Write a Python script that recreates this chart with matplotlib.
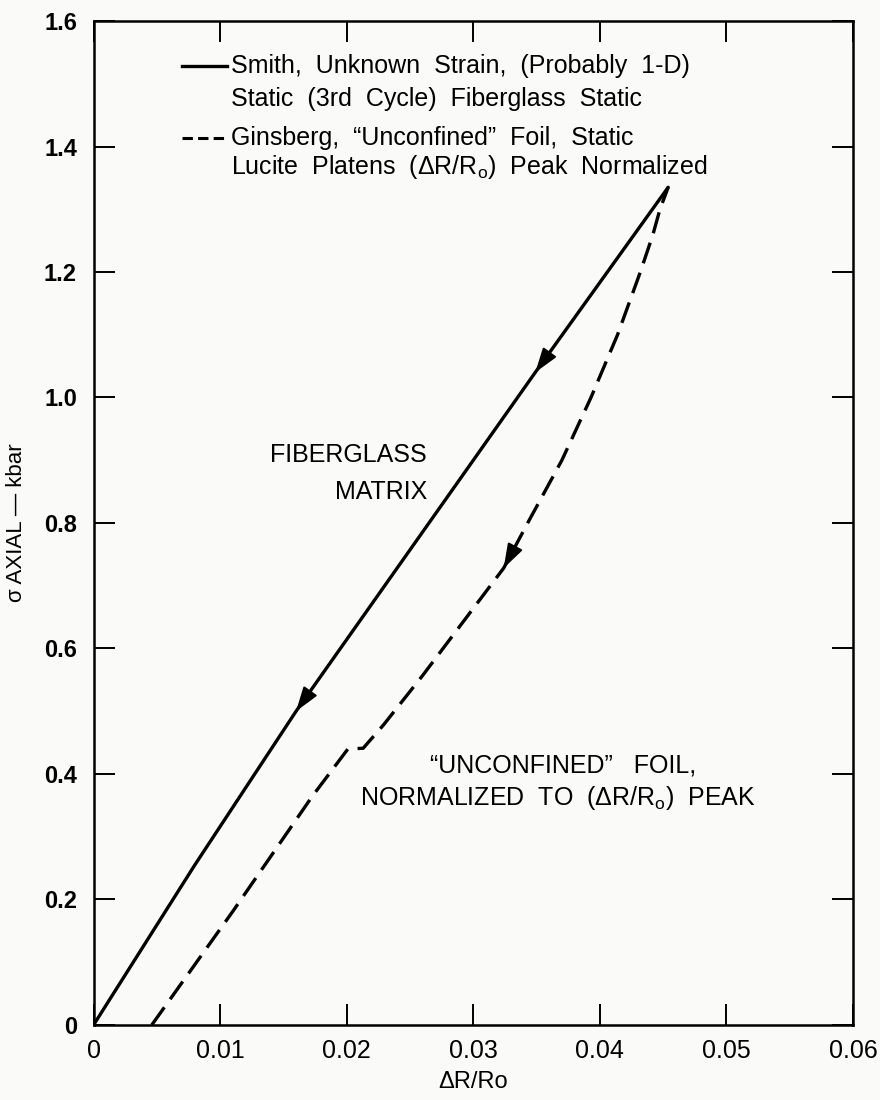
import numpy as np
import matplotlib
matplotlib.use('Agg')
import matplotlib.pyplot as plt

plt.rcParams['font.family'] = ['Liberation Sans', 'DejaVu Sans']
plt.rcParams['mathtext.fontset'] = 'custom'
plt.rcParams['mathtext.rm'] = 'Liberation Sans'

# Smith, fiberglass matrix, static unload (3rd cycle)
smith_dr = [0.0, 0.008, 0.016, 0.0258, 0.0349, 0.0454]
smith_sig = [0.0, 0.255, 0.50, 0.78, 1.04, 1.335]

# Ginsberg, unconfined foil, normalized to peak dR/Ro
gins_dr = [0.0046, 0.011, 0.0173, 0.0201, 0.0213, 0.0229, 0.0260, 0.0324,
           0.0343, 0.0370, 0.0393, 0.0414, 0.0432, 0.0442, 0.04475, 0.0454]
gins_sig = [0.0, 0.181, 0.365, 0.44, 0.441, 0.478, 0.557, 0.728,
            0.80, 0.90, 1.0, 1.10, 1.20, 1.26, 1.30, 1.335]

# stress levels where direction arrows sit
smith_arrow_sig = [0.50, 1.04]
gins_arrow_sig = [0.728]

x_ticks = [0, 0.01, 0.02, 0.03, 0.04, 0.05, 0.06]
x_tick_labels = ['0', '0.01', '0.02', '0.03', '0.04', '0.05', '0.06']
y_ticks = [0, 0.2, 0.4, 0.6, 0.8, 1.0, 1.2, 1.4, 1.6]
y_tick_labels = ['0', '0.2', '0.4', '0.6', '0.8', '1.0', '1.2', '1.4', '1.6']

bg = '#fafaf8'
fig = plt.figure(figsize=(8.8, 11), dpi=100, facecolor=bg)
ax = fig.add_axes([0.1063, 0.0682, 0.863, 0.9127], facecolor=bg)

ax.plot(smith_dr, smith_sig, color='black', linewidth=2.4, solid_capstyle='round')
ax.plot(gins_dr, gins_sig, color='black', linewidth=2.4, dashes=(6.5, 3))

def add_arrows(xs, ys, levels):
    for s in levels:
        x = np.interp(s, ys, xs)
        x_up = np.interp(s + 0.04, ys, xs)
        ax.annotate('', xy=(x, s), xytext=(x_up, s + 0.04),
                    arrowprops=dict(arrowstyle='-|>,head_length=1.5,head_width=0.5',
                                    color='black', lw=1.5, shrinkA=0, shrinkB=0))

add_arrows(smith_dr, smith_sig, smith_arrow_sig)
add_arrows(gins_dr, gins_sig, gins_arrow_sig)

ax.set_xlim(0, 0.06)
ax.set_ylim(0, 1.6)
ax.set_xticks(x_ticks)
ax.set_xticklabels(x_tick_labels, fontsize=18)
ax.set_yticks(y_ticks)
ax.set_yticklabels(y_tick_labels, fontsize=17, fontweight='bold')
ax.tick_params(direction='in', length=15, width=1.4, top=True, right=True)
ax.tick_params(axis='x', pad=10)
ax.tick_params(axis='y', pad=12)
for sp in ax.spines.values():
    sp.set_linewidth(1.8)

ax.set_xlabel('ΔR/Ro', fontsize=17, labelpad=6)
ax.set_ylabel('σ AXIAL — kbar', fontsize=16, labelpad=12)

# legend block drawn as text with short line samples
ax.plot([0.0070, 0.01055], [1.528, 1.528], color='black', linewidth=2.4)
ax.plot([0.0070, 0.01055], [1.414, 1.414], color='black', linewidth=2.2, dashes=(3.4, 1.7))
leg_kw = dict(fontsize=18, va='center', ha='left')
ax.text(0.01086, 1.528, 'Smith,  Unknown  Strain,  (Probably  1-D)', **leg_kw)
ax.text(0.01086, 1.476, 'Static  (3rd  Cycle)  Fiberglass  Static', **leg_kw)
ax.text(0.01086, 1.414, 'Ginsberg,  \u201cUnconfined\u201d  Foil,  Static', **leg_kw)
ax.text(0.01086, 1.368, 'Lucite  Platens  (ΔR/R$_\\mathrm{o}$)  Peak  Normalized', **leg_kw)

note_kw = dict(fontsize=18)
ax.text(0.02636, 0.908, 'FIBERGLASS', ha='right', va='center', **note_kw)
ax.text(0.02636, 0.849, 'MATRIX', ha='right', va='center', **note_kw)
ax.text(0.02658, 0.414, '\u201cUNCONFINED\u201d   FOIL,', ha='left', va='center', **note_kw)
ax.text(0.02105, 0.362, 'NORMALIZED  TO  (ΔR/R$_\\mathrm{o}$)  PEAK', ha='left',
        va='center', **note_kw)

fig.savefig('out.png', dpi=100, facecolor=bg)
